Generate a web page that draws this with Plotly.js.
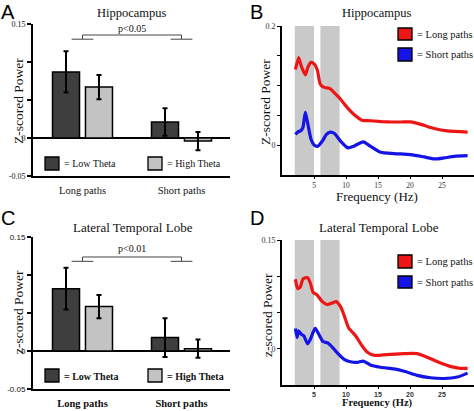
<!DOCTYPE html>
<html>
<head>
<meta charset="utf-8">
<script src="https://cdn.plot.ly/plotly-3.0.1.min.js"></script>
<style>
html,body{margin:0;padding:0;background:#fff;}
#chart{width:474px;height:411px;}
</style>
</head>
<body>
<div id="chart"></div>
<script>
// ---------------- DATA ----------------
const barCategories = ['Long paths', 'Short paths'];

// Panel A: Hippocampus
const hippoLowTheta = [0.087, 0.021];
const hippoLowThetaErr = [0.027, 0.018];
const hippoHighTheta = [0.067, -0.004];
const hippoHighThetaErr = [0.016, 0.012];

// Panel C: Lateral Temporal Lobe
const ltlLowTheta = [0.082, 0.0176];
const ltlLowThetaErr = [0.0275, 0.0255];
const ltlHighTheta = [0.0585, 0.003];
const ltlHighThetaErr = [0.0153, 0.012];

// Panel B: Hippocampus spectra
const hippoLongFreq = [2.1,2.6,3.0,3.65,4.05,4.55,5.05,5.5,6.0,6.6,7.5,8.35,9.15,10.2,11.2,12.5,13.8,16.4,19.1,20.1,21.7,23.8,25.8,29];
const hippoLongPow  = [0.127,0.147,0.133,0.118,0.131,0.139,0.136,0.127,0.102,0.097,0.095,0.086,0.077,0.063,0.052,0.042,0.041,0.039,0.039,0.039,0.035,0.028,0.024,0.022];
const hippoShortFreq = [2.1,2.5,2.9,3.25,3.65,4.05,4.55,5.05,5.6,6.3,6.95,7.55,8.2,9.15,10.3,11.2,12.7,13.8,15.4,17.5,20.1,22.2,23.8,25.3,26.9,29];
const hippoShortPow  = [0.018,0.0225,0.024,0.029,0.055,0.035,0.0096,0.0,-0.0017,0.0068,0.018,0.022,0.0197,0.0068,-0.0045,-0.0017,0.0056,-0.0017,-0.0118,-0.014,-0.0158,-0.0197,-0.023,-0.0214,-0.0186,-0.0175];

// Panel D: Lateral temporal lobe spectra
const ltlLongFreq = [2.1,2.45,2.85,3.25,3.65,4.0,4.45,4.85,5.5,6.3,7.05,7.85,8.45,9.15,9.75,10.4,11.5,12.4,13.3,14.4,16.4,19.1,21.1,22.2,24.3,26.4,27.9,29];
const ltlLongPow  = [0.096,0.083,0.085,0.096,0.098,0.098,0.09,0.078,0.074,0.065,0.061,0.063,0.065,0.058,0.045,0.029,0.018,0.0054,-0.0045,-0.009,-0.008,-0.0067,-0.0067,-0.0099,-0.018,-0.0246,-0.027,-0.027];
const ltlShortFreq = [2.1,2.35,2.6,3.0,3.4,4.0,4.45,4.85,5.2,5.75,6.4,7.15,7.85,8.6,9.65,10.7,11.75,12.7,13.8,15.4,17.5,19.1,21.1,23.2,25.3,27.4,29];
const ltlShortPow  = [0.028,0.0157,0.0246,0.02,0.018,0.0067,0.0134,0.0224,0.028,0.02,0.0099,0.008,0.0022,-0.0054,-0.0143,-0.018,-0.0188,-0.017,-0.0224,-0.0255,-0.0278,-0.031,-0.0367,-0.040,-0.041,-0.039,-0.0336];

// Theta bands shaded (Hz)
const bandStart = [2, 6];
const bandEnd = [5, 9];

// Frequency tick labels
const freqTicks = [5, 10, 15, 20, 25];

// Significance labels
const sigLabelA = 'p<0.05';
const sigLabelC = 'p<0.01';

// ---------------- HELPERS / STYLE ----------------
const W = 474, H = 411;
const px = x => x / W;
const py = y => 1 - y / H;
const SERIF = 'Liberation Serif, Times New Roman, serif';
const SANS = 'Liberation Sans, Arial, sans-serif';
const DARK = '#3e3e3e', LIGHT = '#c3c3c3', RED = '#ee1515', BLUE = '#1414e6', BAND = '#c9c9c9';

function barTrace(vals, errs, color, xa, ya, offset, name) {
  return {
    type: 'bar', x: barCategories, y: vals, xaxis: xa, yaxis: ya, name: name,
    width: 0.273, offset: offset,
    marker: {color: color, line: {color: '#000', width: 1.5}},
    error_y: {type: 'data', array: errs, visible: true, color: '#000', thickness: 2, width: 2.5},
    showlegend: false, hoverinfo: 'skip'
  };
}
function lineTrace(xs, ys, color, xa, ya, name) {
  return {
    type: 'scatter', mode: 'lines', x: xs, y: ys, xaxis: xa, yaxis: ya, name: name,
    line: {color: color, width: 3.2, shape: 'spline', smoothing: 0.6},
    showlegend: false, hoverinfo: 'skip'
  };
}

const data = [
  barTrace(hippoLowTheta, hippoLowThetaErr, DARK, 'x', 'y', -0.303, 'Low Theta'),
  barTrace(hippoHighTheta, hippoHighThetaErr, LIGHT, 'x', 'y', 0.03, 'High Theta'),
  lineTrace(hippoLongFreq, hippoLongPow, RED, 'x2', 'y2', 'Long paths'),
  lineTrace(hippoShortFreq, hippoShortPow, BLUE, 'x2', 'y2', 'Short paths'),
  barTrace(ltlLowTheta, ltlLowThetaErr, DARK, 'x3', 'y3', -0.303, 'Low Theta'),
  barTrace(ltlHighTheta, ltlHighThetaErr, LIGHT, 'x3', 'y3', 0.03, 'High Theta'),
  lineTrace(ltlLongFreq, ltlLongPow, RED, 'x4', 'y4', 'Long paths'),
  lineTrace(ltlShortFreq, ltlShortPow, BLUE, 'x4', 'y4', 'Short paths')
];

function barX(domainPx, anchor, bold) {
  return {
    domain: [px(domainPx[0]), px(domainPx[1])], anchor: anchor,
    type: 'category', range: [-0.5, 1.49],
    showline: true, linecolor: '#000', linewidth: 2,
    ticks: '', showgrid: false, zeroline: false,
    tickfont: {family: SERIF, size: 10.5, color: '#111', weight: bold ? 'bold' : 'normal'},
    ticklabelstandoff: 3, fixedrange: true
  };
}
function barY(topPx, botPx, anchor, bold) {
  return {
    domain: [py(botPx), py(topPx)], anchor: anchor, range: [-0.05, 0.15],
    showline: true, linecolor: '#000', linewidth: 2,
    ticks: 'outside', ticklen: 4, tickwidth: 1.5, tickcolor: '#000',
    tickvals: [-0.05, 0, 0.05, 0.1, 0.15], ticktext: ['-0.05', '0', '', '', '0.15'],
    tickfont: {family: bold ? SANS : SERIF, size: 8, color: '#111'},
    showgrid: false, zeroline: true, zerolinecolor: '#000', zerolinewidth: 2, fixedrange: true
  };
}
function freqX(anchor, bold) {
  return {
    domain: [px(282), 1], anchor: anchor, range: [0, 30],
    showline: true, linecolor: '#000', linewidth: 2,
    ticks: 'outside', ticklen: 2, tickwidth: 1, tickcolor: '#000',
    tickvals: freqTicks,
    tickfont: {family: bold ? SANS : SERIF, size: bold ? 7 : 7.5, color: '#333', weight: bold ? 'bold' : 'normal'},
    showgrid: false, zeroline: false, fixedrange: true
  };
}
function freqY(topPx, botPx, anchor, range, tv, tt) {
  return {
    domain: [py(botPx), py(topPx)], anchor: anchor, range: range,
    showline: true, linecolor: '#000', linewidth: 2,
    ticks: 'outside', ticklen: 3, tickwidth: 1, tickcolor: '#000',
    tickvals: tv, ticktext: tt,
    tickfont: {family: SERIF, size: 8, color: '#333'},
    showgrid: false, zeroline: false, fixedrange: true
  };
}

const shapes = [];
// theta bands
for (const [xa, ya] of [['x2', 'y2'], ['x4', 'y4']]) {
  for (let i = 0; i < bandStart.length; i++) {
    shapes.push({type: 'rect', xref: xa, yref: ya + ' domain', x0: bandStart[i], x1: bandEnd[i], y0: 0, y1: 1,
      fillcolor: BAND, line: {width: 0}, layer: 'below'});
  }
}
// significance brackets
function bracket(xa, ya, top, foot) {
  const ln = {color: '#444', width: 1};
  shapes.push({type: 'line', xref: xa, yref: ya, x0: 0, x1: 1, y0: top, y1: top, line: ln});
  shapes.push({type: 'line', xref: xa, yref: ya, x0: 0, x1: 0, y0: top, y1: foot, line: ln});
  shapes.push({type: 'line', xref: xa, yref: ya, x0: 1, x1: 1, y0: top, y1: foot, line: ln});
  shapes.push({type: 'line', xref: xa, yref: ya, x0: -0.11, x1: 0.11, y0: foot, y1: foot, line: ln});
  shapes.push({type: 'line', xref: xa, yref: ya, x0: 0.89, x1: 1.11, y0: foot, y1: foot, line: ln});
}
bracket('x', 'y', 0.1355, 0.130);
bracket('x3', 'y3', 0.1237, 0.118);

// legend swatches (paper px)
function swatch(x0, y0, x1, y1, color) {
  shapes.push({type: 'rect', xref: 'paper', yref: 'paper', x0: px(x0), x1: px(x1), y0: py(y1), y1: py(y0),
    fillcolor: color, line: {color: '#000', width: 1.3}});
}
swatch(45, 157, 59, 170, DARK);
swatch(148, 157, 162, 170, LIGHT);
swatch(45, 369, 59, 382, DARK);
swatch(148, 369, 162, 382, LIGHT);
swatch(398, 28, 412, 40, RED);
swatch(398, 48, 412, 61, BLUE);
swatch(398, 255, 412, 268, RED);
swatch(398, 276, 412, 288, BLUE);

const annotations = [];
function txt(text, x, y, opts) {
  const o = Object.assign({size: 12, family: SERIF, xanchor: 'center', yanchor: 'middle', angle: 0, weight: 'normal', color: '#111', pad: 1}, opts || {});
  annotations.push({text: text, xref: 'paper', yref: 'paper', x: px(x), y: py(y), xanchor: o.xanchor, yanchor: o.yanchor,
    textangle: o.angle, showarrow: false, borderpad: o.pad, font: {family: o.family, size: o.size, color: o.color, weight: o.weight}});
}
// panel letters
txt('A', 0, 0, {size: 20, family: SANS, xanchor: 'left', yanchor: 'top', color: '#000', pad: 0});
txt('B', 249, 0, {size: 20, family: SANS, xanchor: 'left', yanchor: 'top', color: '#000', pad: 0});
txt('C', 0, 206, {size: 20, family: SANS, xanchor: 'left', yanchor: 'top', color: '#000', pad: 0});
txt('D', 249, 206, {size: 20, family: SANS, xanchor: 'left', yanchor: 'top', color: '#000', pad: 0});
// panel titles
txt('Hippocampus', 132, 13, {size: 12.5});
txt('Hippocampus', 377, 13, {size: 12.5});
txt('Lateral Temporal Lobe', 133, 227, {size: 13});
txt('Lateral Temporal Lobe', 379, 227, {size: 13});
// y titles
txt('Z-scored Power', 18, 101, {size: 13.5, angle: -90});
txt('Z-scored Power', 265, 102, {size: 13.5, angle: -90});
txt('z-scored Power', 18, 312, {size: 13.5, angle: -90});
txt('z-scored Power', 267, 315, {size: 13.5, angle: -90});
// x titles
txt('Frequency (Hz)', 377, 196, {size: 13});
txt('Frequency (Hz)', 377, 411, {size: 10.5, weight: 'bold', yanchor: 'bottom'});
// significance text
annotations.push({text: sigLabelA, xref: 'x', yref: 'y', x: 0.5, y: 0.1447, showarrow: false, font: {family: SERIF, size: 10, color: '#111'}});
annotations.push({text: sigLabelC, xref: 'x3', yref: 'y3', x: 0.5, y: 0.1355, showarrow: false, font: {family: SERIF, size: 10, color: '#111'}});
// legend texts
txt('= Low Theta', 62, 164, {size: 10, xanchor: 'left'});
txt('= High Theta', 165, 164, {size: 10, xanchor: 'left'});
txt('= Low Theta', 62, 376, {size: 10, xanchor: 'left', weight: 'bold'});
txt('= High Theta', 165, 376, {size: 10, xanchor: 'left', weight: 'bold'});
txt('= Long paths', 415, 34, {size: 10.5, xanchor: 'left'});
txt('= Short paths', 415, 55, {size: 10.5, xanchor: 'left'});
txt('= Long paths', 415, 261.5, {size: 10.5, xanchor: 'left'});
txt('= Short paths', 415, 282, {size: 10.5, xanchor: 'left'});

const layout = {
  width: W, height: H, margin: {l: 0, r: 0, t: 0, b: 0},
  paper_bgcolor: '#fff', plot_bgcolor: 'rgba(0,0,0,0)',
  showlegend: false, barmode: 'group',
  xaxis: barX([33, 230], 'y', false),
  yaxis: barY(24, 176, 'x', false),
  xaxis2: freqX('y2', false),
  yaxis2: freqY(26, 175, 'x2', [-0.05, 0.2], [0, 0.05, 0.1, 0.15, 0.2], ['0', '', '', '', '0.2']),
  xaxis3: barX([33, 230], 'y3', true),
  yaxis3: barY(237, 389, 'x3', true),
  xaxis4: freqX('y4', true),
  yaxis4: freqY(240, 385, 'x4', [-0.05, 0.15], [0, 0.05, 0.1, 0.15], ['0', '', '', '0.15']),
  shapes: shapes,
  annotations: annotations
};

Plotly.newPlot('chart', data, layout, {displayModeBar: false, staticPlot: true});
</script>
</body>
</html>
